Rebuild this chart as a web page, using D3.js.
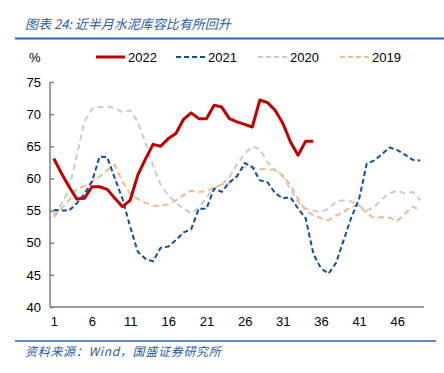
<!DOCTYPE html>
<html>
<head>
<meta charset="utf-8">
<script src="https://cdn.jsdelivr.net/npm/d3@7"></script>
<style>
  body { margin: 0; background: #fff; }
  svg { display: block; font-family: "Liberation Sans", Arial, sans-serif; }
  .cn { font-family: "Noto Sans CJK SC", sans-serif; font-style: italic; fill: #2a5aa6; }
</style>
</head>
<body>
<svg width="444" height="373"></svg>
<script>
'use strict'

// weekly cement storage ratio, %
var weeks = d3.range(1, 50)
var years = ['2022', '2021', '2020', '2019']
var yTicks = [40, 45, 50, 55, 60, 65, 70, 75]
var xTicks = [1, 6, 11, 16, 21, 26, 31, 36, 41, 46]

var s2022 = [63.1, 60.8, 58.7, 56.8, 56.9, 58.7, 58.7, 58.3, 56.9, 55.6,
  56.6, 60.5, 63.0, 65.3, 65.0, 66.2, 67.0, 69.2, 70.2, 69.3,
  69.3, 71.4, 71.1, 69.3, 68.8, 68.4, 68.0, 72.2, 71.8, 70.6,
  68.6, 65.7, 63.6, 65.8, 65.8]
var s2021 = [55.1, 55.0, 55.0, 56.1, 57.6, 59.5, 63.4, 63.3, 60.0, 56.8,
  52.5, 48.6, 47.5, 47.1, 49.2, 49.4, 50.4, 51.6, 52.1, 55.3,
  55.3, 58.4, 57.9, 59.4, 60.3, 62.4, 61.8, 59.7, 59.4, 57.7,
  56.9, 57.1, 55.3, 53.8, 48.3, 46.0, 45.2, 46.9, 50.5, 54.0,
  56.8, 62.3, 62.8, 63.8, 64.8, 64.4, 63.7, 62.9, 62.8]
var s2020 = [54.3, 56.0, 58.3, 63.5, 68.8, 70.8, 71.1, 71.2, 70.9, 70.3,
  70.6, 68.8, 65.5, 62.0, 59.0, 57.4, 56.2, 55.3, 54.6, 55.4,
  57.0, 58.5, 59.0, 60.2, 62.2, 63.8, 65.0, 64.5, 62.5, 61.3,
  60.3, 58.3, 56.3, 55.3, 55.0, 54.8, 55.3, 56.4, 56.6, 56.4,
  55.8, 55.0, 55.6, 56.8, 57.7, 58.1, 57.7, 57.9, 56.6]
var s2019 = [54.0, 55.3, 56.6, 58.4, 58.8, 59.5, 60.3, 61.3, 62.1, 59.5,
  57.6, 56.8, 56.2, 55.8, 55.7, 56.0, 56.6, 57.4, 58.1, 57.9,
  58.0, 58.6, 59.0, 59.2, 60.5, 61.8, 61.7, 61.5, 61.4, 61.3,
  60.5, 59.0, 56.8, 55.0, 54.3, 53.8, 53.5, 54.2, 54.8, 55.6,
  55.8, 54.6, 53.8, 54.0, 53.9, 53.4, 54.5, 55.6, 55.1]

var series = [
  { name: years[3], values: s2019, color: '#f7b88c', width: 2, dash: '6,4' },
  { name: years[2], values: s2020, color: '#cbcbcb', width: 2, dash: '6,4' },
  { name: years[1], values: s2021, color: '#124ea0', width: 2, dash: '5,3' },
  { name: years[0], values: s2022, color: '#c00000', width: 3, dash: null }
]

var svg = d3.select('svg')

var x = d3.scaleLinear().domain([0.5, 49.5]).range([50, 424])
var y = d3.scaleLinear().domain([40, 75]).range([307, 82])

// title + rules
svg.append('text').attr('class', 'cn')
  .attr('x', 25).attr('y', 29).attr('font-size', 13)
  .text('图表 24:  近半月水泥库容比有所回升')
svg.append('line').attr('x1', 15).attr('x2', 444).attr('y1', 38.5).attr('y2', 38.5)
  .attr('stroke', '#2e64ad').attr('stroke-width', 2)
svg.append('line').attr('x1', 15).attr('x2', 436).attr('y1', 341).attr('y2', 341)
  .attr('stroke', '#2e64ad').attr('stroke-width', 1.5)
svg.append('text').attr('class', 'cn')
  .attr('x', 25).attr('y', 356).attr('font-size', 12)
  .attr('letter-spacing', 0.7)
  .text('资料来源：Wind，国盛证券研究所')

svg.append('text').attr('x', 29).attr('y', 62).attr('font-size', 13).text('%')

// axes
var yAxis = d3.axisRight(y).tickValues(yTicks).tickSize(4).tickFormat(d3.format('d'))
var gy = svg.append('g').attr('transform', 'translate(50,0)').call(yAxis)
gy.selectAll('text').attr('x', -9).attr('text-anchor', 'end')
gy.selectAll('line, path').attr('stroke', '#7f7f7f').attr('stroke-width', 1.5)
gy.select('.domain').attr('d', 'M0,82V307')

var xAxis = d3.axisBottom(x).tickValues(xTicks).tickSize(0).tickPadding(10)
var gx = svg.append('g').attr('transform', 'translate(0,307)').call(xAxis)
gx.select('.domain').attr('stroke', '#7f7f7f').attr('stroke-width', 1.5).attr('d', 'M50,0H424')

svg.selectAll('.tick text').attr('font-size', 13).attr('fill', '#000')
  .attr('font-family', '"Liberation Sans", Arial, sans-serif')

// lines
var line = d3.line()
  .x(function(d, i) { return x(weeks[i]) })
  .y(function(d) { return y(d) })

svg.append('g').selectAll('path')
  .data(series)
  .enter().append('path')
  .attr('d', function(d) { return line(d.values) })
  .attr('fill', 'none')
  .attr('stroke', function(d) { return d.color })
  .attr('stroke-width', function(d) { return d.width })
  .attr('stroke-dasharray', function(d) { return d.dash })
  .attr('stroke-linejoin', 'round')

// legend
var legendX = [96, 176, 258, 340]
var legend = svg.append('g').selectAll('g')
  .data(series.slice().reverse())
  .enter().append('g')
  .attr('transform', function(d, i) { return 'translate(' + legendX[i] + ',57)' })
legend.append('line')
  .attr('x1', 0).attr('x2', 29)
  .attr('stroke', function(d) { return d.color })
  .attr('stroke-width', function(d) { return d.width })
  .attr('stroke-dasharray', function(d) { return d.dash ? '5,3' : null })
legend.append('text')
  .attr('x', 32).attr('y', 5).attr('font-size', 13)
  .text(function(d) { return d.name })
</script>
</body>
</html>
